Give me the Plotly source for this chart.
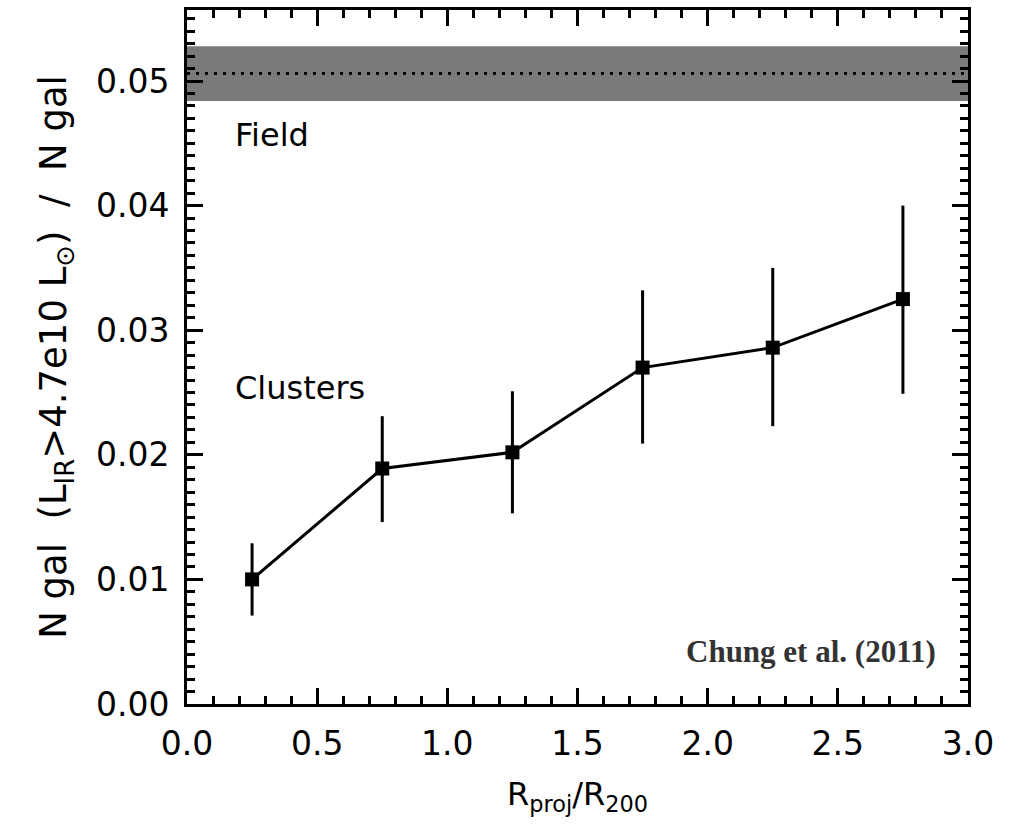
import plotly.graph_objects as go

# Data
r_proj = [0.25, 0.75, 1.25, 1.75, 2.25, 2.75]
frac_ir = [0.0100, 0.0189, 0.0202, 0.0270, 0.0286, 0.0325]
err_plus = [0.0029, 0.0042, 0.0049, 0.0062, 0.0064, 0.0075]
err_minus = [0.0029, 0.0043, 0.0049, 0.0061, 0.0063, 0.0076]

field_value = 0.0506
field_low = 0.0484
field_high = 0.0528

x_ticks = [0.0, 0.5, 1.0, 1.5, 2.0, 2.5, 3.0]
y_ticks = [0.00, 0.01, 0.02, 0.03, 0.04, 0.05]

X_RANGE = [0, 3.0]
Y_RANGE = [0, 0.0557]

FONT = "DejaVu Sans"

fig = go.Figure()

fig.add_trace(go.Scatter(
    x=r_proj, y=frac_ir,
    mode="lines+markers",
    line=dict(color="black", width=3),
    marker=dict(symbol="square", size=14, color="black"),
    error_y=dict(type="data", symmetric=False, array=err_plus, arrayminus=err_minus,
                 color="black", thickness=3, width=0),
    showlegend=False,
))
# invisible trace to activate mirrored axes (for minor ticks on top/right)
fig.add_trace(go.Scatter(x=[X_RANGE[0]], y=[Y_RANGE[0]], xaxis="x2", yaxis="y2",
                         mode="markers", marker=dict(opacity=0), showlegend=False,
                         hoverinfo="skip"))

# Field band and dotted line
fig.add_shape(type="rect", xref="x", yref="y", x0=X_RANGE[0], x1=X_RANGE[1], y0=field_low, y1=field_high,
              fillcolor="#7a7a7a", line=dict(width=0), layer="below")
fig.add_shape(type="line", xref="x", yref="y", x0=X_RANGE[0], x1=X_RANGE[1], y0=field_value, y1=field_value,
              line=dict(color="black", width=3, dash="3px,6px"), layer="below")

fig.add_annotation(x=0.177, y=0.0457, xref="x", yref="y", text="Field", showarrow=False,
                   xanchor="left", yanchor="middle", font=dict(family=FONT, size=32, color="black"))
fig.add_annotation(x=0.177, y=0.0254, xref="x", yref="y", text="Clusters", showarrow=False,
                   xanchor="left", yanchor="middle", font=dict(family=FONT, size=32, color="black"))
fig.add_annotation(x=2.885, y=0.0042, xref="x", yref="y", text="<b>Chung et al. (2011)</b>",
                   showarrow=False, xanchor="right", yanchor="middle",
                   font=dict(family="Liberation Serif", size=31, color="#333333"))

tick_common = dict(ticks="inside", ticklen=16, tickwidth=3, tickcolor="black",
                   showgrid=False, zeroline=False)

fig.update_layout(
    xaxis=dict(
        range=X_RANGE, tickvals=x_ticks, ticktext=[f"{v:.1f}" for v in x_ticks],
        showline=True, linewidth=3, linecolor="black", mirror=True,
        minor=dict(ticks="inside", ticklen=8, tickwidth=3, tickcolor="black", dtick=0.1, showgrid=False),
        tickfont=dict(family=FONT, size=33, color="black"),
        title=dict(text="R<sub>proj</sub>/R<sub>200</sub>", font=dict(family=FONT, size=32, color="black"),
                   standoff=22),
        ticklabelstandoff=8,
        **tick_common,
    ),
    yaxis=dict(
        range=Y_RANGE, tickvals=y_ticks, ticktext=[f"{v:.2f}" for v in y_ticks],
        showline=True, linewidth=3, linecolor="black", mirror=True,
        minor=dict(ticks="inside", ticklen=8, tickwidth=3, tickcolor="black", dtick=0.001, showgrid=False),
        tickfont=dict(family=FONT, size=33, color="black"),
        title=dict(text="N gal  (L<sub>IR</sub>>4.7e10 L<sub>⊙</sub>)  /  N gal",
                   font=dict(family=FONT, size=37, color="black"), standoff=18),
        ticklabelstandoff=8,
        **tick_common,
    ),
    xaxis2=dict(
        range=X_RANGE, overlaying="x", side="top", anchor="y2", showticklabels=False,
        tickvals=x_ticks, showline=False,
        minor=dict(ticks="inside", ticklen=8, tickwidth=3, tickcolor="black", dtick=0.1, showgrid=False),
        **tick_common,
    ),
    yaxis2=dict(
        range=Y_RANGE, overlaying="y", side="right", anchor="x2", showticklabels=False,
        tickvals=y_ticks, showline=False,
        minor=dict(ticks="inside", ticklen=8, tickwidth=3, tickcolor="black", dtick=0.001, showgrid=False),
        **tick_common,
    ),
    width=1019, height=830,
    margin=dict(l=187, r=51, t=7, b=126),
    paper_bgcolor="white", plot_bgcolor="white",
)

fig.write_html("out.html")
